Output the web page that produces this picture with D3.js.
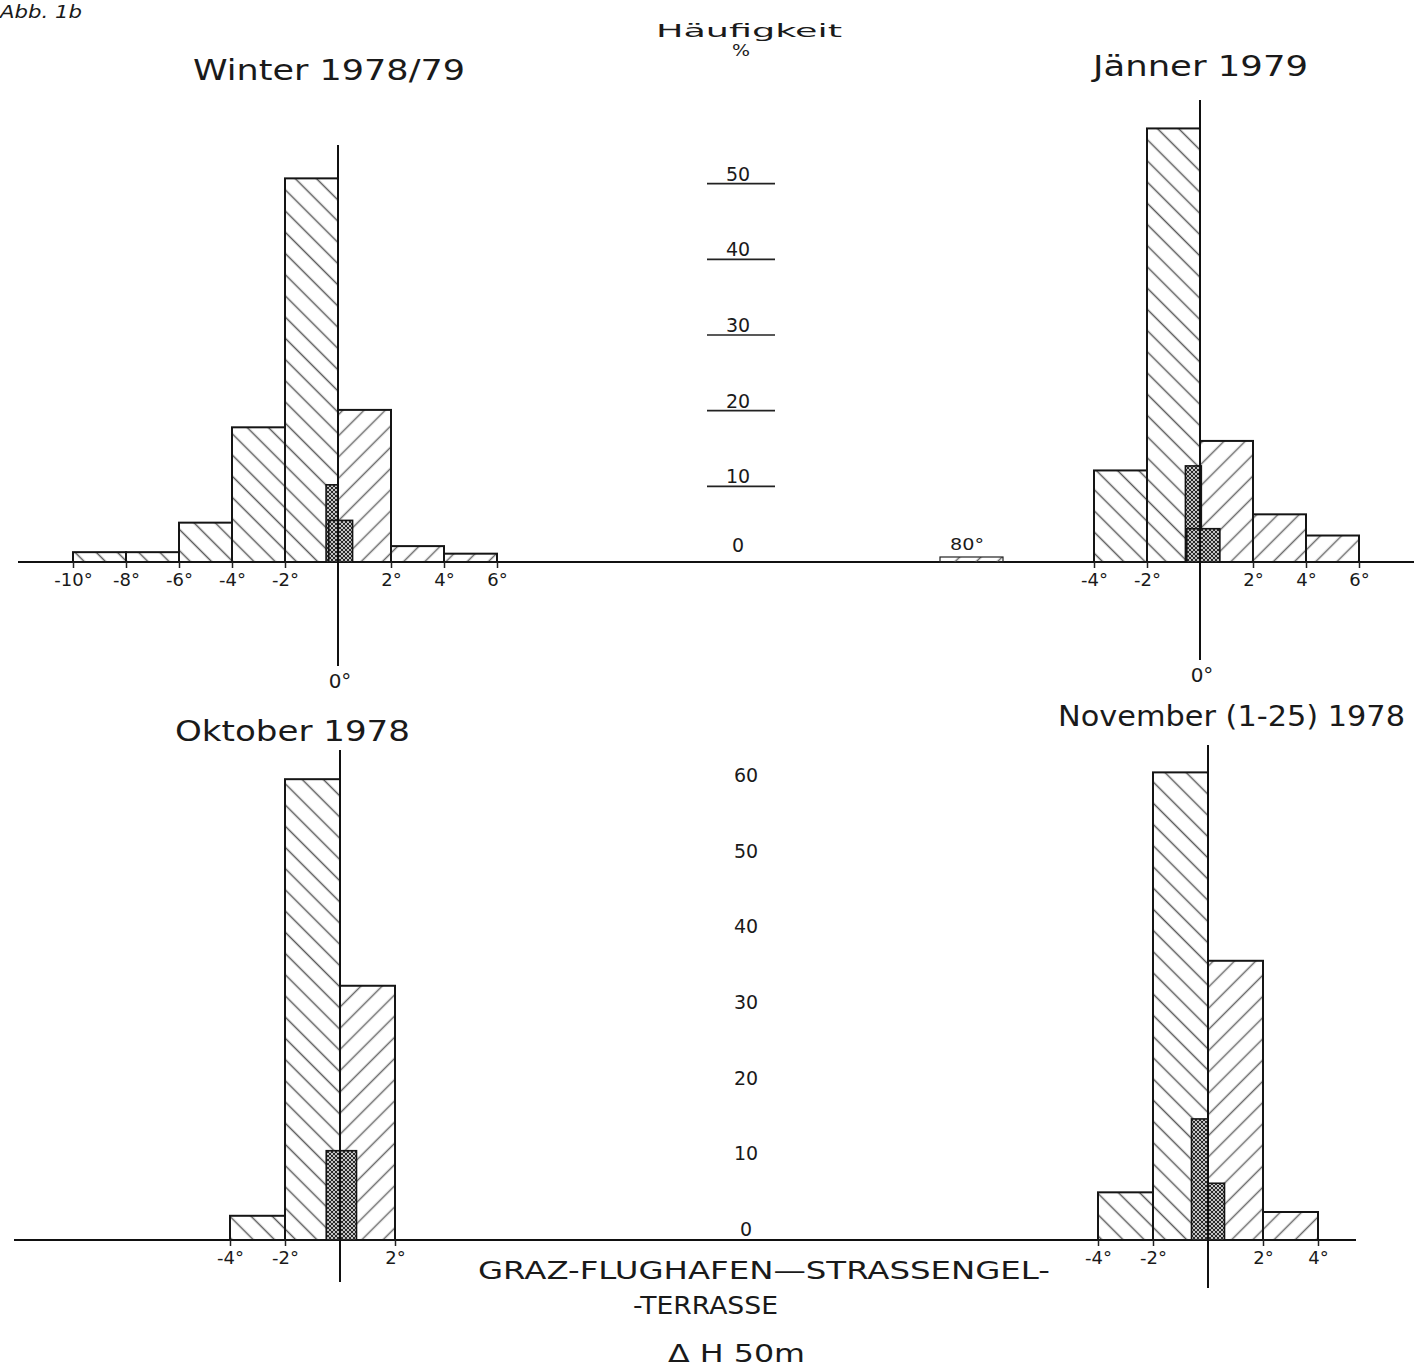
<!DOCTYPE html>
<html><head><meta charset="utf-8">
<script src="https://cdn.jsdelivr.net/npm/d3@7"></script>
<style>
html,body{margin:0;padding:0;background:#fff;}
svg{display:block;}
text{font-family:"DejaVu Sans","Liberation Sans",sans-serif;fill:#1a1a1a;}
</style></head>
<body>
<script>
// ---------------- DATA ----------------
const freqTicksTop = [0, 10, 20, 30, 40, 50];
const freqTicksBottom = [0, 10, 20, 30, 40, 50, 60];

const winterEdges = [-10, -8, -6, -4, -2, 0, 2, 4, 6];
const winterValues = [1.3, 1.3, 5.2, 17.8, 50.7, 20.1, 2.1, 1.1];
const winterTicks = [-10, -8, -6, -4, -2, 2, 4, 6];
const winterInner = [{x0: -0.45, x1: 0, v: 10.2}, {x0: -0.35, x1: 0.55, v: 5.5}];

const jaennerEdges = [-4, -2, 0, 2, 4, 6];
const jaennerValues = [12.1, 57.3, 16.0, 6.3, 3.5];
const jaennerTicks = [-4, -2, 2, 4, 6];
const jaennerInner = [{x0: -0.55, x1: 0.05, v: 12.7}, {x0: -0.5, x1: 0.75, v: 4.4}];

const oktoberEdges = [-4, -2, 0, 2];
const oktoberValues = [3.2, 60.9, 33.6];
const oktoberTicks = [-4, -2, 2];
const oktoberInner = [{x0: -0.5, x1: 0.6, v: 11.8}];

const novemberEdges = [-4, -2, 0, 2, 4];
const novemberValues = [6.3, 61.8, 36.9, 3.7];
const novemberTicks = [-4, -2, 2, 4];
const novemberInner = [{x0: -0.6, x1: 0, v: 16.0}, {x0: 0, x1: 0.6, v: 7.5}];

const titles = ["Winter 1978/79", "Jänner 1979", "Oktober 1978", "November (1-25) 1978"];
const axisTitle = ["Häufigkeit", "%"];
const footer = ["GRAZ-FLUGHAFEN—STRASSENGEL-", "-TERRASSE", "Δ H 50m"];
const figLabel = "Abb. 1b";
const extraLabel = "80°";

// ---------------- DRAW ----------------
const W = 1414, H = 1368;
const svg = d3.select("body").append("svg").attr("width", W).attr("height", H);

const defs = svg.append("defs");
function hatch(id, angle, size, color, width) {
  const p = defs.append("pattern").attr("id", id).attr("patternUnits", "userSpaceOnUse")
    .attr("width", size).attr("height", size).attr("patternTransform", `rotate(${angle})`);
  p.append("line").attr("x1", size / 2).attr("y1", 0).attr("x2", size / 2).attr("y2", size)
    .attr("stroke", color).attr("stroke-width", width);
}
hatch("hNeg", -45, 15, "#5a5a5a", 1.5);
hatch("hPos", 45, 15, "#6a6a6a", 1.5);
(function () {
  const p = defs.append("pattern").attr("id", "dense").attr("patternUnits", "userSpaceOnUse")
    .attr("width", 4).attr("height", 4);
  p.append("rect").attr("width", 4).attr("height", 4).attr("fill", "#c4c4c4");
  p.append("path").attr("d", "M0,0L4,4M4,0L0,4").attr("stroke", "#2a2a2a").attr("stroke-width", 1);
})();

const yTop = d3.scaleLinear().domain([0, 60]).range([562, 562 - 454]);
const yBot = d3.scaleLinear().domain([0, 60]).range([1240, 1240 - 454]);

// long baselines
svg.append("line").attr("x1", 18).attr("x2", 1414).attr("y1", yTop(0)).attr("y2", yTop(0))
  .attr("stroke", "#111").attr("stroke-width", 2.2);
svg.append("line").attr("x1", 14).attr("x2", 1356).attr("y1", yBot(0)).attr("y2", yBot(0))
  .attr("stroke", "#111").attr("stroke-width", 2.2);

function panel(cfg) {
  const {edges, values, ticks, inner, y, x0px, pxPerDeg, zeroTop, zeroBottom, zeroLabel} = cfg;
  const x = d3.scaleLinear().domain([0, 1]).range([x0px, x0px + pxPerDeg]);
  const g = svg.append("g");
  const bins = values.map((v, i) => ({a: edges[i], b: edges[i + 1], v}));
  g.selectAll("rect.bar").data(bins).join("rect").attr("class", "bar")
    .attr("x", d => x(d.a)).attr("width", d => x(d.b) - x(d.a))
    .attr("y", d => y(d.v)).attr("height", d => y(0) - y(d.v))
    .attr("fill", d => d.a < 0 ? "url(#hNeg)" : "url(#hPos)")
    .attr("stroke", "#151515").attr("stroke-width", 2);
  g.selectAll("rect.inner").data(inner).join("rect").attr("class", "inner")
    .attr("x", d => x(d.x0)).attr("width", d => x(d.x1) - x(d.x0))
    .attr("y", d => y(d.v)).attr("height", d => y(0) - y(d.v))
    .attr("fill", "url(#dense)").attr("stroke", "#151515").attr("stroke-width", 1.6);
  // zero line
  g.append("line").attr("x1", x(0)).attr("x2", x(0)).attr("y1", zeroTop).attr("y2", zeroBottom)
    .attr("stroke", "#111").attr("stroke-width", 2);
  // x axis
  const ax = g.append("g").attr("transform", `translate(0,${y(0)})`)
    .call(d3.axisBottom(x).tickValues(ticks).tickSize(6).tickPadding(5).tickFormat(d => d + "°"));
  ax.select(".domain").remove();
  ax.selectAll(".tick line").attr("stroke", "#222").attr("stroke-width", 1.5);
  ax.selectAll(".tick text").attr("font-size", 18).attr("fill", "#333")
    .attr("font-family", "'DejaVu Sans Condensed','DejaVu Sans',sans-serif");
  if (zeroLabel) {
    g.append("text").attr("x", x(0) + 2).attr("y", zeroBottom + 22).attr("text-anchor", "middle")
      .attr("font-size", 20).attr("fill", "#333").text("0°");
  }
  return x;
}

panel({edges: winterEdges, values: winterValues, ticks: winterTicks, inner: winterInner,
  y: yTop, x0px: 338, pxPerDeg: 26.5, zeroTop: 145, zeroBottom: 666, zeroLabel: true});
panel({edges: jaennerEdges, values: jaennerValues, ticks: jaennerTicks, inner: jaennerInner,
  y: yTop, x0px: 1200, pxPerDeg: 26.5, zeroTop: 100, zeroBottom: 660, zeroLabel: true});
panel({edges: oktoberEdges, values: oktoberValues, ticks: oktoberTicks, inner: oktoberInner,
  y: yBot, x0px: 340, pxPerDeg: 27.5, zeroTop: 750, zeroBottom: 1282, zeroLabel: false});
panel({edges: novemberEdges, values: novemberValues, ticks: novemberTicks, inner: novemberInner,
  y: yBot, x0px: 1208, pxPerDeg: 27.5, zeroTop: 745, zeroBottom: 1288, zeroLabel: false});

// central frequency scales
const cTop = svg.append("g");
cTop.selectAll("line").data(freqTicksTop.filter(d => d > 0)).join("line")
  .attr("x1", 707).attr("x2", 775).attr("y1", d => yTop(d)).attr("y2", d => yTop(d))
  .attr("stroke", "#222").attr("stroke-width", 1.6);
cTop.selectAll("text").data(freqTicksTop).join("text")
  .attr("x", 738).attr("y", d => yTop(d) - (d === 0 ? 10 : 3)).attr("text-anchor", "middle")
  .attr("font-size", 19).attr("fill", "#333").text(d => d);
const cBot = svg.append("g");
cBot.selectAll("text").data(freqTicksBottom).join("text")
  .attr("x", 746).attr("y", d => yBot(d) - 4).attr("text-anchor", "middle")
  .attr("font-size", 19).attr("fill", "#333").text(d => d);

// texts
function txt(s, x, y, size, len, extra) {
  const t = svg.append("text").attr("x", x).attr("y", y).attr("font-size", size).text(s);
  if (len) t.attr("textLength", len).attr("lengthAdjust", "spacingAndGlyphs");
  if (extra) extra(t);
  return t;
}
txt(titles[0], 193, 80, 28, 272);
txt(titles[1], 1093, 76, 28, 215);
txt(titles[2], 175, 741, 28, 235);
txt(titles[3], 1058, 726, 28, 347);
txt(axisTitle[0], 656, 37, 18, 186, t => t.attr("fill", "#444"));
txt(axisTitle[1], 732, 56, 16, 18, t => t.attr("fill", "#444"));
txt(footer[0], 478, 1279, 24, 572, t => t.attr("fill", "#444"));
txt(footer[1], 633, 1314, 24, 145, t => t.attr("fill", "#444"));
txt(footer[2], 668, 1362, 24, 137, t => t.attr("fill", "#444"));
txt(figLabel, 0, 18, 17, 82, t => t.attr("font-style", "italic").attr("fill", "#333"));
txt(extraLabel, 950, 550, 16, 34, t => t.attr("fill", "#333"));
svg.append("rect").attr("x", 940).attr("width", 63).attr("y", yTop(0) - 5).attr("height", 5)
  .attr("fill", "url(#hPos)").attr("stroke", "#222").attr("stroke-width", 1.2);
</script>
</body></html>
